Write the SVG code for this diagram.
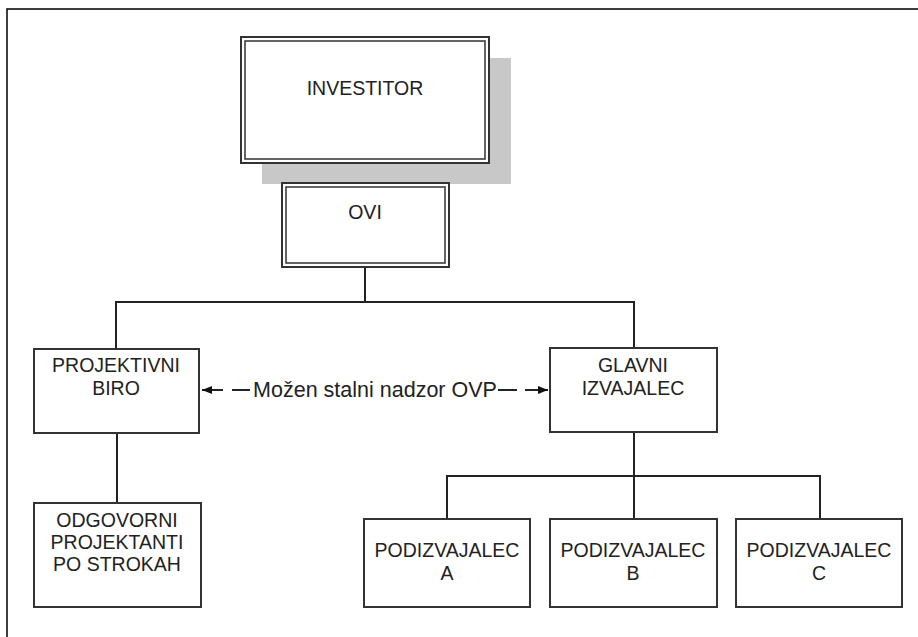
<svg xmlns="http://www.w3.org/2000/svg" width="918" height="637" viewBox="0 0 918 637">
<style>
.box{fill:#fff;stroke:#333;stroke-width:2}
.inner{fill:none;stroke:#333;stroke-width:1.5}
.lbl{font-family:"Liberation Sans",Arial,sans-serif;font-size:19.5px;fill:#222;text-anchor:middle}
.elbl{font-family:"Liberation Sans",Arial,sans-serif;font-size:21.5px;fill:#222;text-anchor:middle}
.conn{fill:none;stroke:#222;stroke-width:2}
</style>
<defs>
<marker id="ah" viewBox="0 0 10 8" refX="10" refY="4" markerWidth="10" markerHeight="8" markerUnits="userSpaceOnUse" orient="auto">
<path d="M0,0 L10,4 L0,8 Z" fill="#111"/>
</marker>
</defs>
<rect x="0" y="0" width="918" height="637" fill="#fff"/>
<path d="M7,637 V9 H918" fill="none" stroke="#000" stroke-width="1.5"/>
<g id="connectors">
<path class="conn" d="M365,163 V183"/>
<path class="conn" d="M365,267 V302 M116,349 V302 H634 V348"/>
<path class="conn" d="M117,433 V503"/>
<path class="conn" d="M634,432 V476 M447,519 V476 H820 V519 M634,476 V519"/>
<path class="conn" d="M223,390 H202" marker-end="url(#ah)"/>
<path class="conn" d="M232,390 H250"/>
<path class="conn" d="M498,390 H517"/>
<path class="conn" d="M525,390 H548" marker-end="url(#ah)"/>
<text class="elbl" x="375" y="397">Možen stalni nadzor OVP</text>
</g>
<g id="investitor">
<rect x="262" y="58" width="249" height="126" fill="#c8c8c8"/>
<rect class="box" x="241" y="37" width="248" height="126" stroke-width="2.5"/>
<rect class="inner" x="245" y="41" width="240" height="118"/>
<text class="lbl" x="365" y="95">INVESTITOR</text>
</g>
<g id="ovi">
<rect class="box" x="282" y="183" width="167" height="84" stroke-width="2.5"/>
<rect class="inner" x="286" y="187" width="159" height="76"/>
<text class="lbl" x="365" y="219">OVI</text>
</g>
<g id="projektivni-biro">
<rect class="box" x="34" y="349" width="165" height="84"/>
<text class="lbl" x="116" y="372">PROJEKTIVNI</text>
<text class="lbl" x="116" y="395">BIRO</text>
</g>
<g id="glavni-izvajalec">
<rect class="box" x="550" y="348" width="167" height="84"/>
<text class="lbl" x="633" y="372">GLAVNI</text>
<text class="lbl" x="633" y="395">IZVAJALEC</text>
</g>
<g id="odgovorni">
<rect class="box" x="34" y="503" width="167" height="104"/>
<text class="lbl" x="117" y="527">ODGOVORNI</text>
<text class="lbl" x="117" y="549">PROJEKTANTI</text>
<text class="lbl" x="117" y="571">PO STROKAH</text>
</g>
<g id="podizvajalec-a">
<rect class="box" x="364" y="519" width="166" height="88"/>
<text class="lbl" x="447" y="557">PODIZVAJALEC</text>
<text class="lbl" x="447" y="580">A</text>
</g>
<g id="podizvajalec-b">
<rect class="box" x="550" y="519" width="167" height="88"/>
<text class="lbl" x="633" y="557">PODIZVAJALEC</text>
<text class="lbl" x="633" y="580">B</text>
</g>
<g id="podizvajalec-c">
<rect class="box" x="736" y="519" width="166" height="88"/>
<text class="lbl" x="819" y="557">PODIZVAJALEC</text>
<text class="lbl" x="819" y="580">C</text>
</g>
</svg>
